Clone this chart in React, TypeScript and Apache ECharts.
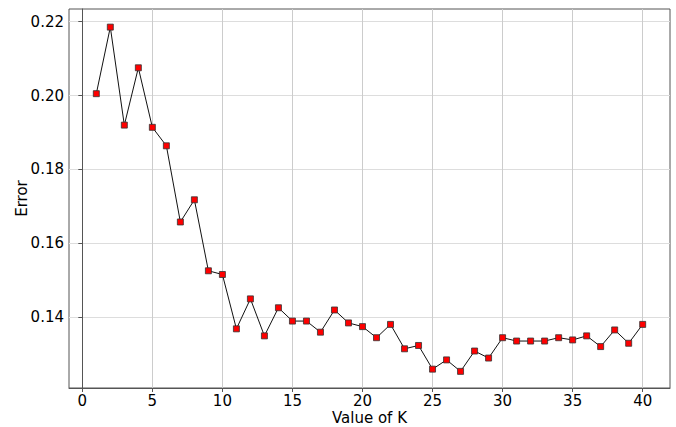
import React, { useEffect, useRef } from "react";
import * as echarts from "echarts";

const kValues: number[] = Array.from({ length: 40 }, (_, i) => i + 1);
const errorValues: number[] = [
  0.2005, 0.2185, 0.192, 0.2075, 0.1914, 0.1864, 0.1658, 0.1718, 0.1526, 0.1516,
  0.1369, 0.145, 0.135, 0.1426, 0.139, 0.139, 0.136, 0.142, 0.1385, 0.1375,
  0.1345, 0.1381, 0.1315, 0.1324, 0.126, 0.1285, 0.1254, 0.1309, 0.129, 0.1345,
  0.1336, 0.1336, 0.1336, 0.1345, 0.1339, 0.135, 0.1321, 0.1366, 0.133, 0.1381,
];
const xTicks: number[] = [0, 5, 10, 15, 20, 25, 30, 35, 40];
const yTicks: number[] = [0.14, 0.16, 0.18, 0.2, 0.22];

export default function App() {
  const ref = useRef<HTMLDivElement>(null);
  useEffect(() => {
    document.body.style.margin = "0";
    const chart = echarts.init(ref.current!, undefined, { renderer: "svg" });
    const font = "DejaVu Sans";
    chart.setOption({
      animation: false,
      backgroundColor: "#ffffff",
      grid: {
        left: 69,
        top: 9,
        right: 6,
        bottom: 39,
        outerBoundsMode: "none",
        containLabel: false,
        show: true,
        borderColor: "#555555",
        borderWidth: 1,
        backgroundColor: "transparent",
      },
      xAxis: {
        type: "value",
        min: -0.95,
        max: 41.95,
        name: "Value of K",
        nameLocation: "middle",
        nameMoveOverlap: false,
        nameGap: 22,
        nameTextStyle: { color: "#000", fontFamily: font, fontSize: 15, lineHeight: 15 },
        axisLine: { show: true, lineStyle: { color: "#555555", width: 1 } },
        axisTick: {
          show: true,
          customValues: xTicks,
          length: 4,
          lineStyle: { color: "#555555" },
        },
        axisLabel: {
          customValues: xTicks,
          color: "#000",
          fontFamily: font,
          fontSize: 15,
          lineHeight: 15,
          margin: 5,
        },
        splitLine: { show: true, lineStyle: { color: "#cccccc", width: 1 } },
      },
      yAxis: {
        type: "value",
        min: 0.1209,
        max: 0.2234,
        name: "Error",
        nameLocation: "middle",
        nameMoveOverlap: false,
        nameGap: 40,
        nameTextStyle: { color: "#000", fontFamily: font, fontSize: 15 },
        axisLine: { show: true, lineStyle: { color: "#555555", width: 1 } },
        axisTick: {
          show: true,
          customValues: yTicks,
          length: 4,
          lineStyle: { color: "#555555" },
        },
        axisLabel: {
          customValues: yTicks,
          color: "#000",
          fontFamily: font,
          fontSize: 15,
          margin: 5,
          formatter: (v: number) => v.toFixed(2),
        },
        splitLine: { show: true, lineStyle: { color: "#dddddd", width: 1 } },
      },
      series: [
        {
          type: "line",
          data: kValues.map((k, i) => [k, errorValues[i]]),
          symbol: "rect",
          symbolSize: 6,
          itemStyle: { color: "#ff0000", borderColor: "#333333", borderWidth: 0.8 },
          lineStyle: { color: "#111111", width: 1 },
        },
      ],
    });
    return () => chart.dispose();
  }, []);
  return <div ref={ref} style={{ width: 676, height: 427 }} />;
}
